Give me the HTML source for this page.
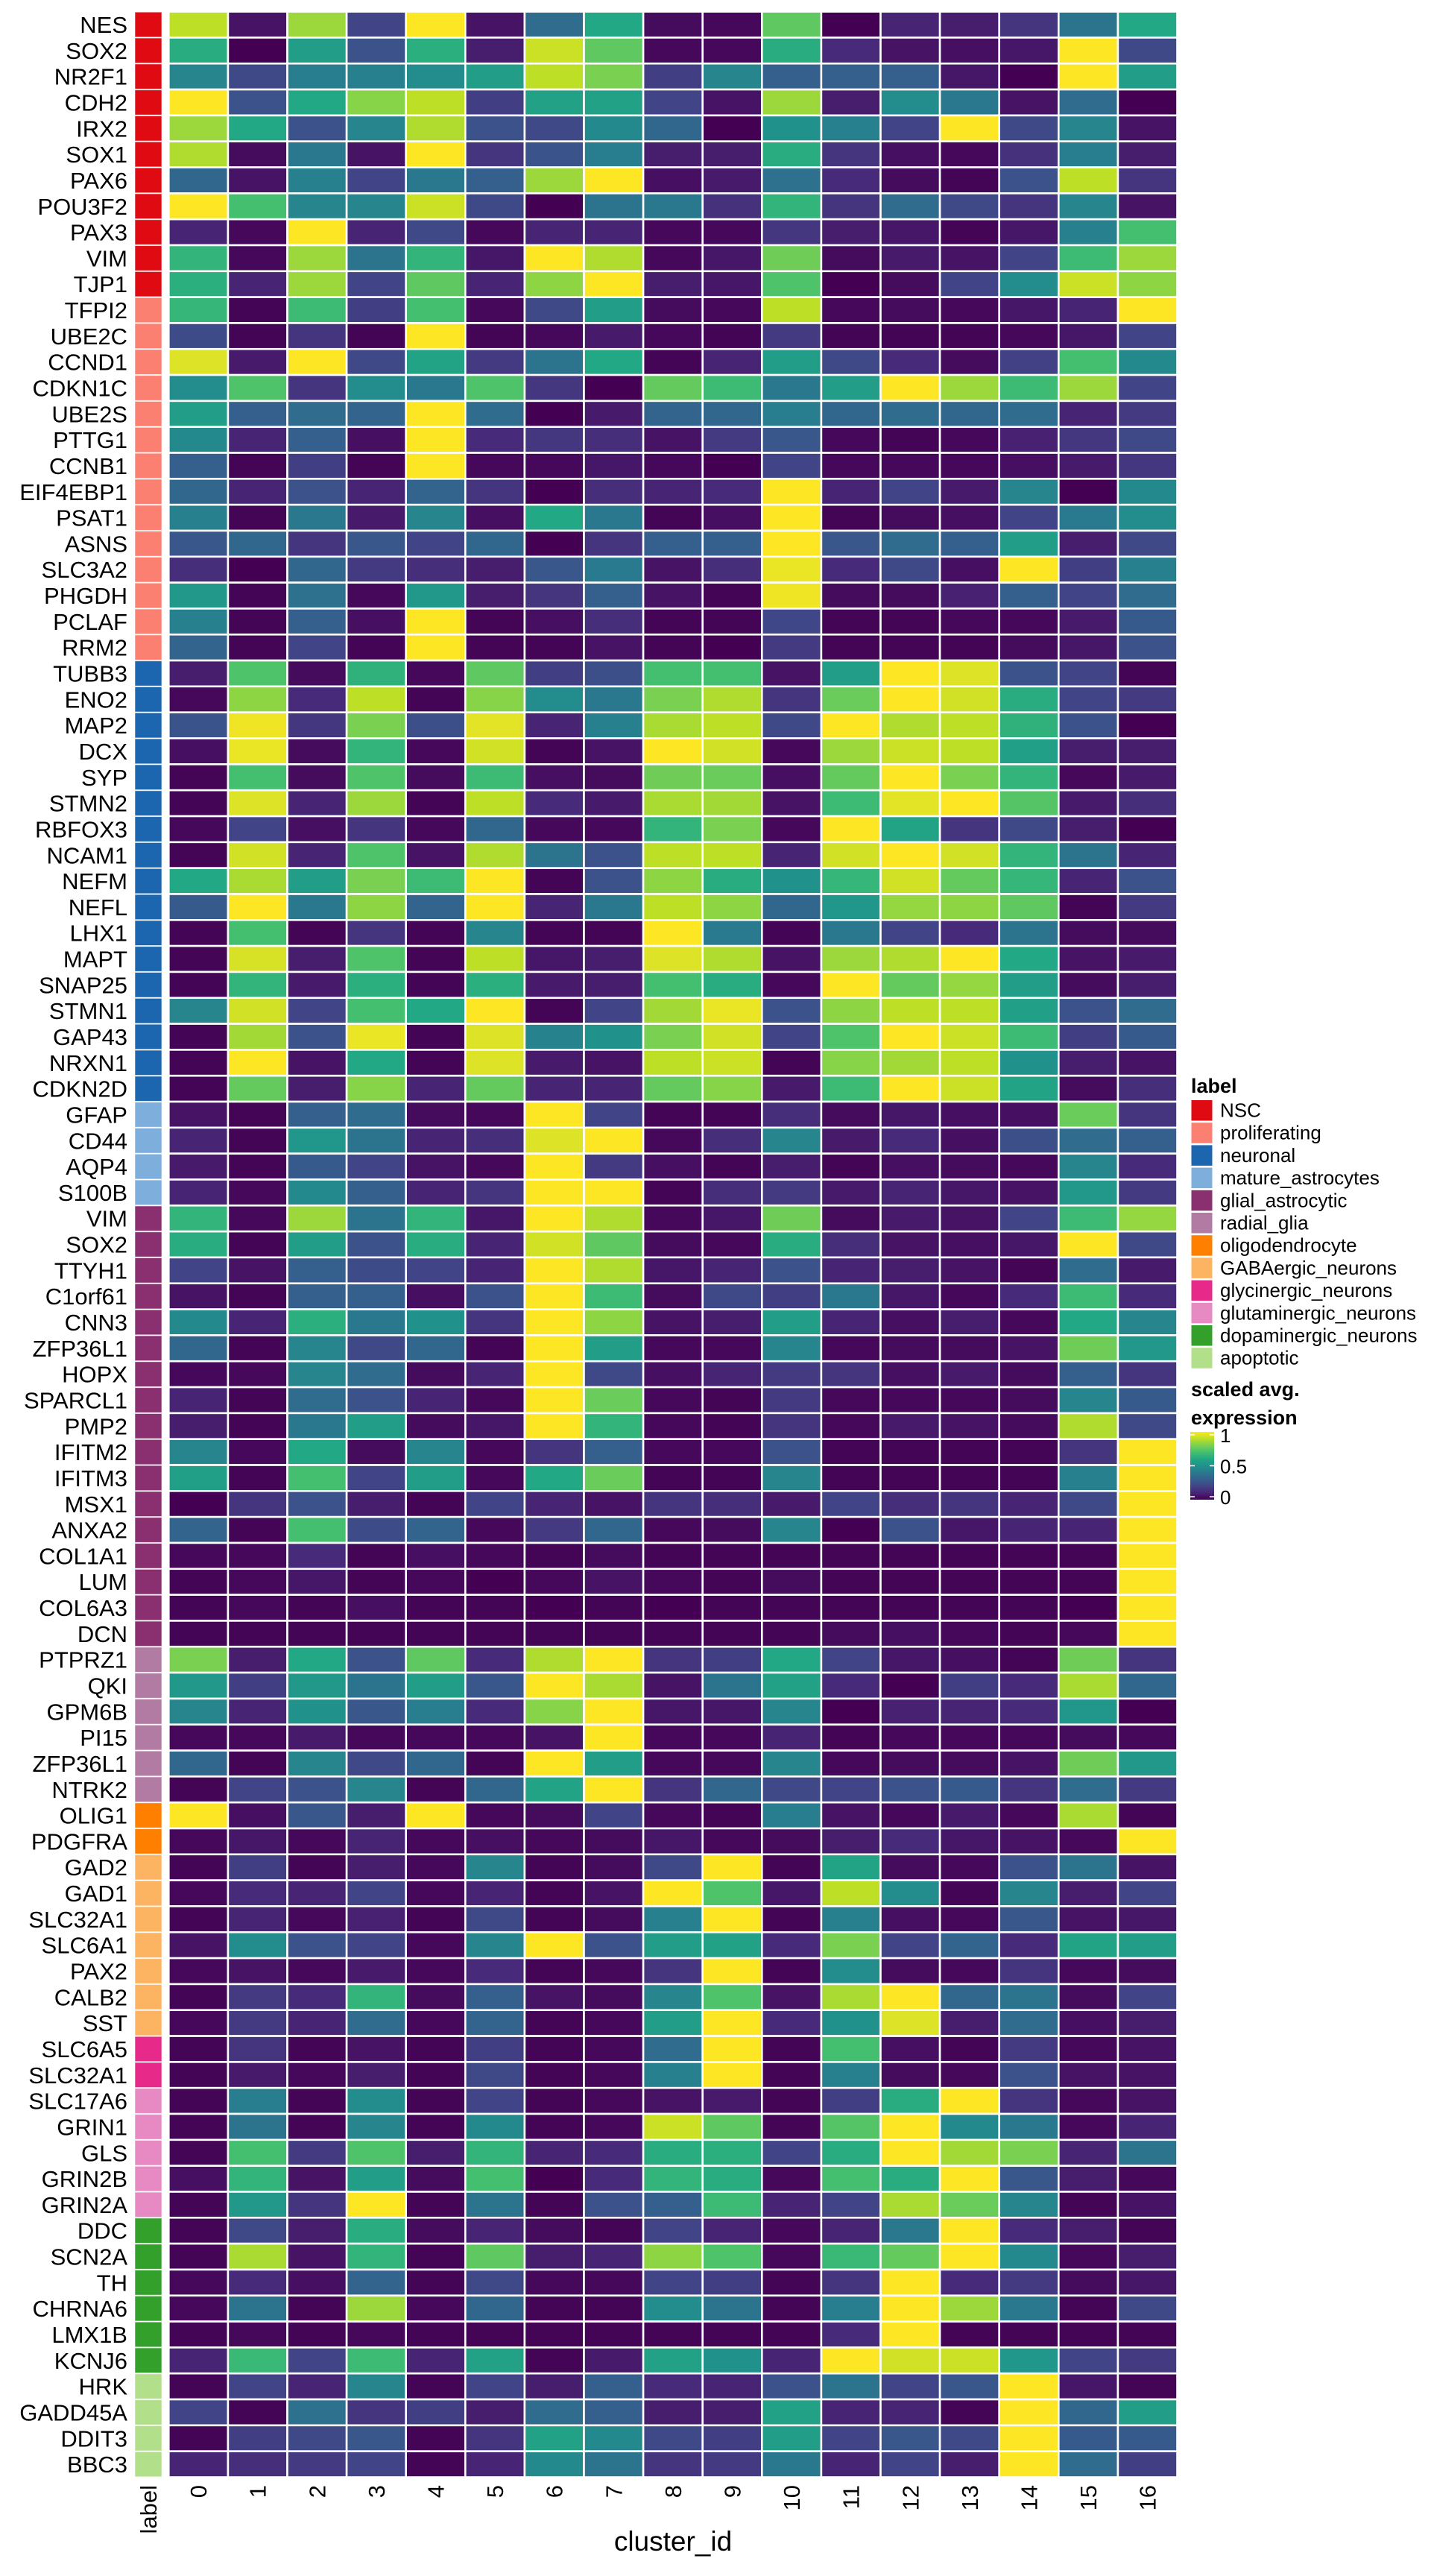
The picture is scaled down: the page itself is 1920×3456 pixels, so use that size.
<!DOCTYPE html>
<html><head><meta charset="utf-8">
<style>
html,body{margin:0;padding:0;background:#fff;}
svg{display:block;font-family:"Liberation Sans",Arial,sans-serif;}
</style></head>
<body>
<svg id="chart" width="1920" height="3456" viewBox="0 0 1920 3456" xmlns="http://www.w3.org/2000/svg">
<rect x="0" y="0" width="1920" height="3456" fill="#ffffff"/>
<g id="labels"></g><g id="strip"></g><g id="cells"></g><g id="xticks"></g>
<text x="903" y="3422" font-size="37" text-anchor="middle" fill="#000">cluster_id</text>
<g id="legend"></g>
</svg>
<script>
const clusters = ["0","1","2","3","4","5","6","7","8","9","10","11","12","13","14","15","16"];
const groupNames = ["NSC","proliferating","neuronal","mature_astrocytes","glial_astrocytic","radial_glia","oligodendrocyte","GABAergic_neurons","glycinergic_neurons","glutaminergic_neurons","dopaminergic_neurons","apoptotic"];
const groupColors = ["#e00b12","#fb8072","#1c66b0","#7eaedc","#8a2f70","#b27ba3","#ff7f00","#fdb462","#e7298a","#e78ac3","#33a02c","#b2df8a"];
const genes = ["NES","SOX2","NR2F1","CDH2","IRX2","SOX1","PAX6","POU3F2","PAX3","VIM","TJP1",
"TFPI2","UBE2C","CCND1","CDKN1C","UBE2S","PTTG1","CCNB1","EIF4EBP1","PSAT1","ASNS","SLC3A2","PHGDH","PCLAF","RRM2",
"TUBB3","ENO2","MAP2","DCX","SYP","STMN2","RBFOX3","NCAM1","NEFM","NEFL","LHX1","MAPT","SNAP25","STMN1","GAP43","NRXN1","CDKN2D",
"GFAP","CD44","AQP4","S100B",
"VIM","SOX2","TTYH1","C1orf61","CNN3","ZFP36L1","HOPX","SPARCL1","PMP2","IFITM2","IFITM3","MSX1","ANXA2","COL1A1","LUM","COL6A3","DCN",
"PTPRZ1","QKI","GPM6B","PI15","ZFP36L1","NTRK2",
"OLIG1","PDGFRA",
"GAD2","GAD1","SLC32A1","SLC6A1","PAX2","CALB2","SST",
"SLC6A5","SLC32A1",
"SLC17A6","GRIN1","GLS","GRIN2B","GRIN2A",
"DDC","SCN2A","TH","CHRNA6","LMX1B","KCNJ6",
"HRK","GADD45A","DDIT3","BBC3"];
const groupSizes = [11,14,17,4,17,6,2,7,2,5,6,4];
const expr = [
[0.9,0.05,0.85,0.2,1,0.05,0.35,0.6,0.03,0.02,0.75,0.0,0.1,0.08,0.15,0.38,0.6],
[0.62,0,0.55,0.25,0.63,0.08,0.92,0.75,0.02,0.02,0.62,0.12,0.05,0.04,0.06,1,0.22],
[0.45,0.22,0.42,0.43,0.48,0.55,0.9,0.8,0.18,0.45,0.3,0.3,0.3,0.06,0.0,1,0.55],
[1,0.25,0.6,0.82,0.9,0.18,0.57,0.57,0.2,0.05,0.85,0.08,0.48,0.4,0.05,0.35,0.0],
[0.85,0.6,0.25,0.45,0.88,0.25,0.22,0.47,0.33,0.0,0.5,0.43,0.2,1,0.22,0.45,0.05],
[0.88,0.03,0.4,0.05,1,0.15,0.26,0.42,0.08,0.08,0.62,0.15,0.04,0.02,0.14,0.42,0.08],
[0.33,0.05,0.43,0.2,0.4,0.3,0.85,1,0.04,0.07,0.37,0.12,0.03,0.01,0.25,0.9,0.15],
[1,0.7,0.45,0.45,0.92,0.22,0.0,0.38,0.4,0.14,0.65,0.15,0.35,0.22,0.15,0.45,0.05],
[0.1,0.02,1,0.1,0.22,0.02,0.1,0.1,0.02,0.02,0.16,0.08,0.06,0.01,0.06,0.43,0.7],
[0.65,0.02,0.85,0.38,0.65,0.06,1,0.88,0.02,0.06,0.78,0.03,0.07,0.05,0.2,0.68,0.85],
[0.63,0.1,0.85,0.2,0.75,0.1,0.83,1,0.08,0.06,0.72,0.0,0.03,0.2,0.48,0.92,0.83],
[0.66,0.01,0.68,0.18,0.7,0.02,0.22,0.55,0.03,0.02,0.9,0.02,0.03,0.02,0.06,0.1,1],
[0.23,0.01,0.15,0.01,1,0.01,0.02,0.07,0.02,0.01,0.17,0.01,0.01,0.01,0.02,0.06,0.2],
[0.95,0.07,1,0.22,0.58,0.17,0.38,0.6,0.01,0.1,0.55,0.22,0.12,0.03,0.19,0.7,0.47],
[0.48,0.72,0.15,0.48,0.4,0.72,0.16,0.0,0.76,0.68,0.4,0.55,1,0.85,0.68,0.85,0.2],
[0.55,0.3,0.35,0.32,1,0.35,0.0,0.07,0.32,0.33,0.42,0.33,0.35,0.33,0.35,0.1,0.17],
[0.47,0.1,0.3,0.04,1,0.12,0.16,0.13,0.05,0.17,0.27,0.02,0.01,0.02,0.09,0.16,0.22],
[0.3,0.01,0.18,0.01,1,0.02,0.02,0.06,0.02,0.0,0.2,0.02,0.02,0.02,0.04,0.07,0.16],
[0.33,0.1,0.25,0.1,0.32,0.15,0.0,0.13,0.1,0.12,1,0.1,0.2,0.07,0.45,0.0,0.47],
[0.43,0.01,0.4,0.07,0.45,0.04,0.6,0.4,0.01,0.04,1,0.01,0.03,0.04,0.2,0.41,0.48],
[0.27,0.33,0.15,0.27,0.2,0.33,0.0,0.15,0.3,0.3,1,0.27,0.35,0.3,0.55,0.08,0.22],
[0.13,0.0,0.33,0.17,0.13,0.08,0.27,0.41,0.05,0.13,0.97,0.12,0.22,0.04,1,0.18,0.43],
[0.53,0.01,0.37,0.02,0.53,0.08,0.15,0.3,0.05,0.01,0.98,0.03,0.03,0.09,0.3,0.2,0.35],
[0.43,0.01,0.3,0.04,1,0.01,0.04,0.13,0.01,0.01,0.21,0.01,0.01,0.02,0.02,0.07,0.28],
[0.32,0.01,0.2,0.01,1,0.01,0.01,0.05,0.01,0.0,0.17,0.01,0.01,0.01,0.03,0.06,0.25],
[0.08,0.72,0.03,0.64,0.02,0.75,0.18,0.24,0.7,0.7,0.05,0.55,1,0.95,0.25,0.2,0.01],
[0.02,0.83,0.12,0.9,0.01,0.82,0.48,0.4,0.8,0.88,0.15,0.77,1,0.93,0.62,0.2,0.17],
[0.26,0.98,0.16,0.8,0.24,0.96,0.1,0.43,0.87,0.9,0.22,1,0.88,0.9,0.64,0.25,0.0],
[0.04,0.97,0.03,0.65,0.02,0.93,0.01,0.05,1,0.93,0.02,0.85,0.92,0.9,0.56,0.08,0.08],
[0.01,0.7,0.03,0.72,0.03,0.68,0.04,0.03,0.78,0.77,0.04,0.76,1,0.8,0.65,0.02,0.07],
[0.01,0.95,0.1,0.85,0.01,0.9,0.12,0.07,0.87,0.86,0.05,0.68,0.96,1,0.73,0.07,0.13],
[0.02,0.2,0.04,0.15,0.02,0.33,0.02,0.02,0.65,0.8,0.02,1,0.58,0.15,0.22,0.08,0.0],
[0.01,0.93,0.1,0.72,0.05,0.88,0.38,0.25,0.9,0.9,0.1,0.93,1,0.93,0.65,0.38,0.1],
[0.6,0.87,0.55,0.8,0.68,1,0.01,0.25,0.83,0.62,0.5,0.66,0.93,0.76,0.66,0.1,0.25],
[0.28,1,0.4,0.83,0.32,1,0.1,0.4,0.9,0.83,0.33,0.52,0.84,0.83,0.75,0.01,0.17],
[0.01,0.7,0.01,0.15,0.01,0.45,0.01,0.01,1,0.41,0.01,0.4,0.2,0.12,0.38,0.03,0.03],
[0.01,0.94,0.08,0.72,0.01,0.9,0.06,0.08,0.95,0.88,0.05,0.85,0.88,1,0.6,0.05,0.07],
[0.01,0.65,0.07,0.63,0.01,0.63,0.07,0.08,0.7,0.62,0.02,1,0.76,0.84,0.55,0.03,0.08],
[0.45,0.93,0.2,0.7,0.6,1,0.01,0.2,0.86,0.97,0.25,0.83,0.9,0.9,0.56,0.25,0.35],
[0.01,0.86,0.25,0.97,0.01,0.95,0.44,0.5,0.8,0.93,0.2,0.72,1,0.92,0.68,0.18,0.28],
[0.01,1,0.05,0.6,0.01,0.95,0.07,0.05,0.9,0.92,0.01,0.82,0.86,0.9,0.5,0.08,0.05],
[0.01,0.76,0.08,0.82,0.1,0.76,0.1,0.1,0.76,0.82,0.07,0.68,1,0.92,0.58,0.03,0.13],
[0.05,0.01,0.3,0.35,0.03,0.02,1,0.2,0.01,0.01,0.13,0.03,0.06,0.04,0.04,0.77,0.15],
[0.1,0.01,0.52,0.38,0.1,0.13,0.95,1,0.02,0.13,0.45,0.07,0.12,0.04,0.24,0.35,0.3],
[0.07,0.01,0.28,0.2,0.05,0.02,1,0.17,0.04,0.01,0.08,0.01,0.04,0.03,0.02,0.45,0.12],
[0.1,0.02,0.47,0.3,0.1,0.15,1,1,0.01,0.13,0.17,0.07,0.1,0.06,0.05,0.53,0.17],
[0.65,0.02,0.85,0.38,0.65,0.06,1,0.88,0.02,0.06,0.78,0.03,0.07,0.05,0.2,0.68,0.84],
[0.62,0.01,0.55,0.25,0.62,0.1,0.93,0.75,0.03,0.02,0.62,0.13,0.05,0.04,0.06,1,0.22],
[0.2,0.05,0.3,0.23,0.2,0.1,1,0.88,0.06,0.1,0.25,0.1,0.08,0.05,0.01,0.35,0.07],
[0.05,0.01,0.3,0.3,0.04,0.25,1,0.68,0.03,0.22,0.18,0.4,0.06,0.02,0.12,0.68,0.12],
[0.47,0.1,0.63,0.4,0.5,0.15,1,0.83,0.05,0.08,0.55,0.1,0.04,0.08,0.02,0.6,0.45],
[0.33,0.01,0.45,0.22,0.33,0.01,1,0.55,0.02,0.02,0.45,0.02,0.03,0.03,0.05,0.78,0.53],
[0.02,0.02,0.45,0.35,0.03,0.1,1,0.22,0.04,0.1,0.17,0.15,0.04,0.07,0.03,0.3,0.15],
[0.1,0.01,0.35,0.25,0.1,0.02,1,0.77,0.02,0.01,0.17,0.02,0.02,0.02,0.03,0.45,0.28],
[0.08,0.01,0.4,0.55,0.03,0.06,1,0.65,0.02,0.01,0.15,0.02,0.07,0.05,0.03,0.88,0.22],
[0.45,0.02,0.6,0.03,0.45,0.02,0.15,0.3,0.02,0.02,0.25,0.01,0.01,0.01,0.01,0.15,1],
[0.56,0.01,0.7,0.2,0.55,0.02,0.6,0.77,0.01,0.01,0.45,0.01,0.01,0.01,0.01,0.43,1],
[0.0,0.15,0.25,0.08,0.01,0.2,0.1,0.05,0.15,0.13,0.07,0.2,0.13,0.15,0.1,0.22,1],
[0.32,0.01,0.7,0.23,0.32,0.02,0.17,0.33,0.02,0.03,0.45,0.0,0.25,0.06,0.1,0.1,1],
[0.02,0.02,0.12,0.01,0.04,0.02,0.01,0.03,0.01,0.01,0.01,0.01,0.01,0.01,0.01,0.01,1],
[0.01,0.02,0.06,0.01,0.02,0.0,0.02,0.05,0.02,0.01,0.03,0.01,0.01,0.01,0.01,0.01,1],
[0.01,0.02,0.01,0.04,0.01,0.01,0.0,0.01,0.0,0.01,0.01,0.01,0.01,0.01,0.01,0.0,1],
[0.01,0.01,0.01,0.01,0.01,0.01,0.01,0.01,0.01,0.01,0.01,0.03,0.04,0.02,0.01,0.02,1],
[0.8,0.08,0.6,0.25,0.75,0.12,0.88,1,0.15,0.18,0.6,0.2,0.06,0.04,0.01,0.78,0.15],
[0.53,0.18,0.53,0.38,0.55,0.27,1,0.87,0.05,0.38,0.57,0.12,0.0,0.18,0.12,0.87,0.33],
[0.45,0.1,0.5,0.27,0.42,0.12,0.82,1,0.06,0.06,0.45,0.0,0.09,0.1,0.12,0.52,0.0],
[0.02,0.02,0.07,0.02,0.02,0.02,0.05,1,0.02,0.02,0.1,0.01,0.02,0.02,0.02,0.03,0.02],
[0.33,0.01,0.45,0.22,0.33,0.01,1,0.55,0.02,0.02,0.45,0.02,0.03,0.03,0.05,0.78,0.53],
[0.01,0.2,0.25,0.45,0.01,0.33,0.58,1,0.15,0.33,0.22,0.2,0.25,0.28,0.15,0.35,0.17],
[1,0.04,0.27,0.08,1,0.02,0.03,0.2,0.02,0.01,0.42,0.05,0.02,0.07,0.02,0.87,0.01],
[0.02,0.06,0.02,0.1,0.02,0.04,0.02,0.03,0.06,0.02,0.03,0.08,0.12,0.06,0.05,0.02,1],
[0.01,0.18,0.01,0.08,0.02,0.45,0.01,0.03,0.22,1,0.01,0.58,0.03,0.02,0.25,0.38,0.05],
[0.02,0.12,0.1,0.2,0.02,0.1,0.01,0.05,1,0.72,0.06,0.9,0.48,0.01,0.45,0.08,0.2],
[0.01,0.1,0.02,0.09,0.01,0.22,0.01,0.03,0.43,1,0.01,0.43,0.04,0.02,0.27,0.05,0.06],
[0.05,0.48,0.25,0.2,0.02,0.45,1,0.25,0.55,0.57,0.12,0.8,0.2,0.32,0.12,0.58,0.55],
[0.02,0.05,0.02,0.07,0.02,0.12,0.01,0.02,0.15,1,0.01,0.48,0.03,0.02,0.15,0.02,0.03],
[0.01,0.17,0.12,0.65,0.03,0.3,0.05,0.03,0.45,0.72,0.05,0.87,1,0.33,0.38,0.03,0.2],
[0.02,0.17,0.1,0.35,0.02,0.32,0.01,0.02,0.55,1,0.12,0.5,0.95,0.08,0.35,0.04,0.08],
[0.01,0.15,0.01,0.05,0.01,0.18,0.01,0.02,0.35,1,0.01,0.7,0.04,0.01,0.17,0.02,0.05],
[0.01,0.07,0.02,0.08,0.01,0.22,0.01,0.02,0.43,1,0.01,0.43,0.03,0.02,0.25,0.05,0.05],
[0.01,0.42,0.01,0.48,0.01,0.2,0.01,0.02,0.05,0.07,0.01,0.18,0.62,1,0.15,0.02,0.05],
[0.01,0.38,0.01,0.45,0.01,0.47,0.01,0.02,0.92,0.75,0.01,0.73,1,0.47,0.4,0.02,0.1],
[0.01,0.7,0.17,0.72,0.08,0.65,0.1,0.12,0.62,0.63,0.2,0.62,1,0.86,0.8,0.1,0.38],
[0.04,0.65,0.05,0.55,0.03,0.7,0.0,0.12,0.65,0.62,0.02,0.7,0.62,1,0.27,0.08,0.02],
[0.01,0.53,0.15,1,0.01,0.38,0.01,0.25,0.3,0.68,0.1,0.2,0.87,0.77,0.45,0.01,0.05],
[0.01,0.22,0.08,0.62,0.03,0.1,0.03,0.01,0.2,0.1,0.02,0.1,0.4,1,0.12,0.08,0.01],
[0.01,0.87,0.05,0.65,0.01,0.75,0.08,0.1,0.83,0.72,0.02,0.67,0.76,1,0.47,0.02,0.08],
[0.02,0.12,0.04,0.32,0.01,0.22,0.02,0.02,0.2,0.18,0.01,0.15,1,0.12,0.17,0.03,0.06],
[0.02,0.38,0.01,0.85,0.02,0.33,0.01,0.01,0.48,0.38,0.01,0.42,1,0.85,0.4,0.01,0.22],
[0.01,0.02,0.01,0.02,0.01,0.01,0.01,0.01,0.01,0.01,0.01,0.12,1,0.01,0.01,0.01,0.01],
[0.1,0.67,0.2,0.68,0.1,0.57,0.01,0.07,0.57,0.5,0.1,1,0.93,0.92,0.52,0.2,0.17],
[0.01,0.2,0.1,0.45,0.01,0.2,0.08,0.3,0.12,0.1,0.25,0.38,0.2,0.27,1,0.06,0.01],
[0.2,0.01,0.37,0.15,0.18,0.08,0.35,0.3,0.08,0.08,0.57,0.1,0.1,0.01,1,0.33,0.55],
[0.01,0.18,0.22,0.27,0.01,0.15,0.57,0.47,0.22,0.18,0.55,0.2,0.27,0.22,1,0.28,0.28],
[0.1,0.13,0.17,0.2,0.01,0.1,0.47,0.38,0.15,0.17,0.4,0.1,0.2,0.08,1,0.35,0.18]
];
const legendTicks = [0, 0.5, 1];

const NS = "http://www.w3.org/2000/svg";
const X0 = 226.3, CW = 79.6, Y0 = 15.6, RH = 34.82;
const STRIP_X = 181, STRIP_W = 36;
function xPos(c){ return X0 + c*CW; }
function yPos(r){ return Y0 + r*RH; }
const VIR = ["#440154","#482475","#414487","#355f8d","#2a788e","#21918c","#22a884","#44bf70","#7ad151","#bddf26","#fde725"];
function hex2rgb(h){ return [parseInt(h.substr(1,2),16),parseInt(h.substr(3,2),16),parseInt(h.substr(5,2),16)]; }
function viridis(v){
  v = Math.max(0, Math.min(1, v));
  const p = v*(VIR.length-1), i = Math.min(Math.floor(p), VIR.length-2), f = p - i;
  const a = hex2rgb(VIR[i]), b = hex2rgb(VIR[i+1]);
  return "rgb(" + a.map((x,k)=>Math.round(x+(b[k]-x)*f)).join(",") + ")";
}
function mk(tag, attrs, parent){
  const e = document.createElementNS(NS, tag);
  for (const k in attrs) e.setAttribute(k, attrs[k]);
  parent.appendChild(e); return e;
}
const gLabels = document.getElementById("labels");
const gStrip = document.getElementById("strip");
const gCells = document.getElementById("cells");
const gX = document.getElementById("xticks");
const gLeg = document.getElementById("legend");

// group index per row
const rowGroup = [];
groupSizes.forEach((n, g) => { for (let i=0;i<n;i++) rowGroup.push(g); });

genes.forEach((gene, r) => {
  const t = mk("text", {x: 171, y: yPos(r)+RH/2+11, "font-size": 31, "text-anchor": "end", fill: "#000"}, gLabels);
  
  
  t.textContent = gene;
  const s = mk("rect", {x: STRIP_X, y: yPos(r)+0.6, width: STRIP_W, height: RH-1.2, fill: groupColors[rowGroup[r]], stroke: "#ffffff", "stroke-opacity": 0.6, "stroke-width": 1}, gStrip);
  
  
  expr[r].forEach((v, c) => {
    const cell = mk("rect", {x: xPos(c), y: yPos(r), width: CW, height: RH, fill: viridis(v), stroke: "#ffffff", "stroke-width": 2.6}, gCells);
    
    
  });
});

// x tick labels
const yTop = 3334;
function rotText(x, txt, name){
  const t = mk("text", {x: 0, y: 0, "font-size": 31, "text-anchor": "end", fill: "#000", transform: "translate(" + (x+11) + "," + yTop + ") rotate(-90)"}, gX);
  
  
  t.textContent = txt;
}
rotText(STRIP_X + STRIP_W/2, "label", "x-tick-label-strip");
clusters.forEach((cl, c) => rotText(xPos(c)+CW/2, cl, "x-tick-label"));

// legend: label
const LX = 1598;
const lt = mk("text", {x: LX, y: 1466, "font-size": 27, "font-weight": "bold", fill: "#000"}, gLeg);


lt.textContent = "label";
groupNames.forEach((nm, i) => {
  const y = 1475.5 + i*30.2;
  const k = mk("rect", {x: LX, y: y, width: 29, height: 28.5, fill: groupColors[i], stroke: "#ffffff", "stroke-width": 1}, gLeg);
  
  
  const t = mk("text", {x: 1637, y: y + 23, "font-size": 26, fill: "#000"}, gLeg);
  
  
  t.textContent = nm;
});
const st1 = mk("text", {x: LX, y: 1873, "font-size": 27, "font-weight": "bold", fill: "#000"}, gLeg);


st1.textContent = "scaled avg.";
const st2 = mk("text", {x: LX, y: 1911, "font-size": 27, "font-weight": "bold", fill: "#000"}, gLeg);


st2.textContent = "expression";
// colorbar
const CB_X = 1597, CB_W = 32, CB_TOP = 1921, CB_BOT = 2012;
const defs = mk("defs", {}, gLeg);
const grad = mk("linearGradient", {id: "vgrad", x1: "0", y1: "1", x2: "0", y2: "0"}, defs);
VIR.forEach((c, i) => mk("stop", {offset: (i/(VIR.length-1)), "stop-color": c}, grad));
const cb = mk("rect", {x: CB_X, y: CB_TOP, width: CB_W, height: CB_BOT-CB_TOP, fill: "url(#vgrad)"}, gLeg);


legendTicks.forEach(v => {
  const y = CB_BOT - v*(CB_BOT-CB_TOP - 8) - 4;
  mk("line", {x1: CB_X, x2: CB_X+6, y1: y, y2: y, stroke: "#fff", "stroke-width": 1.5}, gLeg);
  mk("line", {x1: CB_X+CB_W-6, x2: CB_X+CB_W, y1: y, y2: y, stroke: "#fff", "stroke-width": 1.5}, gLeg);
  const t = mk("text", {x: 1637, y: y + 10, "font-size": 26, fill: "#000"}, gLeg);
  
  
  t.textContent = String(v);
});
</script>
</body></html>
